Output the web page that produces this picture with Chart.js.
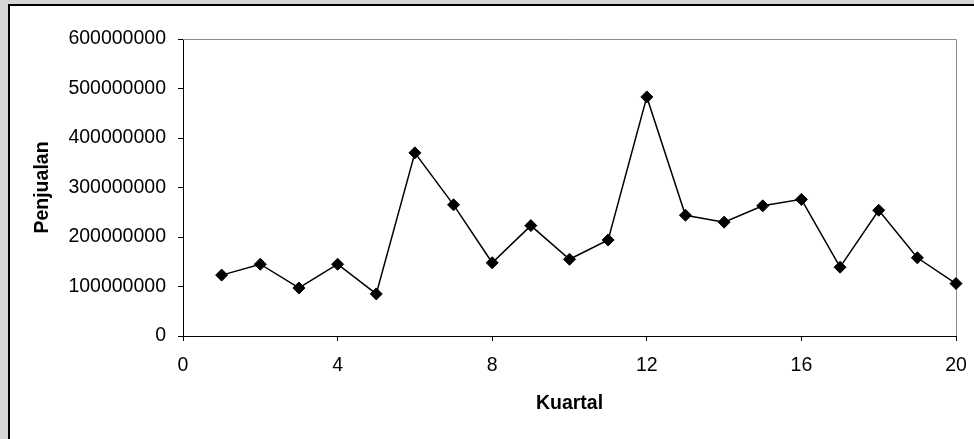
<!DOCTYPE html>
<html>
<head>
<meta charset="utf-8">
<script src="https://cdn.jsdelivr.net/npm/chart.js@4/dist/chart.umd.min.js"></script>
<style>
  html, body { margin: 0; padding: 0; background: #d6d6d6; width: 974px; height: 439px; overflow: hidden; }
  #frame {
    position: absolute; left: 8px; top: 4px; width: 966px; height: 435px;
    box-sizing: border-box; background: #fff;
    border-left: 2px solid #000; border-top: 2px solid #000;
  }
  #wrap { position: absolute; left: 0; top: 0; width: 964px; height: 433px; }
</style>
</head>
<body>
<div id="frame"><div id="wrap"><canvas id="chart"></canvas></div></div>
<script>
// data
const kuartal = [1, 2, 3, 4, 5, 6, 7, 8, 9, 10, 11, 12, 13, 14, 15, 16, 17, 18, 19, 20];
const penjualan = [123000000, 145000000, 97000000, 145000000, 85000000, 370000000, 265000000,
    148000000, 223000000, 155000000, 194000000, 483000000, 244000000, 230000000, 263000000,
    276000000, 139000000, 254000000, 158000000, 106000000];
const xTicks = [0, 4, 8, 12, 16, 20];
const yTicks = [0, 100000000, 200000000, 300000000, 400000000, 500000000, 600000000];

const points = kuartal.map((k, i) => ({ x: k, y: penjualan[i] }));
const FONT = '"Liberation Sans", Arial, sans-serif';

// garis abu-abu di atas dan kanan area plot
const plotFrame = {
    id: 'plotFrame',
    beforeDatasetsDraw(chart) {
        const a = chart.chartArea;
        const ctx = chart.ctx;
        ctx.save();
        ctx.strokeStyle = '#8c8c8c';
        ctx.lineWidth = 1;
        ctx.beginPath();
        ctx.moveTo(a.left, a.top + 0.5);
        ctx.lineTo(a.right + 0.5, a.top + 0.5);
        ctx.lineTo(a.right + 0.5, a.bottom);
        ctx.stroke();
        ctx.restore();
    }
};

new Chart(document.getElementById('chart'), {
    type: 'line',
    data: {
        datasets: [{
            data: points,
            borderColor: '#000',
            borderWidth: 1.5,
            backgroundColor: '#000',
            pointStyle: 'rectRot',
            pointRadius: 6,
            pointBorderWidth: 1,
            pointBackgroundColor: '#000',
            pointBorderColor: '#000',
            tension: 0,
            clip: false
        }]
    },
    options: {
        responsive: true,
        maintainAspectRatio: false,
        animation: false,
        events: [],
        layout: { padding: { top: 33, right: 18, bottom: 0, left: 0 } },
        plugins: { legend: { display: false }, tooltip: { enabled: false } },
        scales: {
            x: {
                type: 'linear',
                min: 0, max: 20,
                afterBuildTicks: s => { s.ticks = xTicks.map(v => ({ value: v })); },
                afterFit: s => { s.height = 103; s.paddingLeft = 0; s.paddingRight = 0; },
                grid: { drawOnChartArea: false, drawTicks: true, tickLength: 5, color: '#000' },
                border: { color: '#000', width: 1 },
                ticks: { color: '#000', padding: 13, maxRotation: 0, font: { family: FONT, size: 19.5 } },
                title: {
                    display: true, text: 'Kuartal', color: '#000',
                    padding: { top: 0, bottom: 24 },
                    font: { family: FONT, size: 19.5, weight: 'bold' }
                }
            },
            y: {
                min: 0, max: 600000000,
                afterBuildTicks: s => { s.ticks = yTicks.map(v => ({ value: v })); },
                afterFit: s => { s.width = 173; },
                grid: { drawOnChartArea: false, drawTicks: true, tickLength: 5, color: '#000' },
                border: { color: '#000', width: 1 },
                ticks: { color: '#000', padding: 12, font: { family: FONT, size: 19.5 }, callback: v => String(v) },
                title: {
                    display: true, text: 'Penjualan', color: '#000',
                    padding: { top: 21, bottom: 0 },
                    font: { family: FONT, size: 19.5, weight: 'bold' }
                }
            }
        }
    },
    plugins: [plotFrame]
});
</script>
</body>
</html>
